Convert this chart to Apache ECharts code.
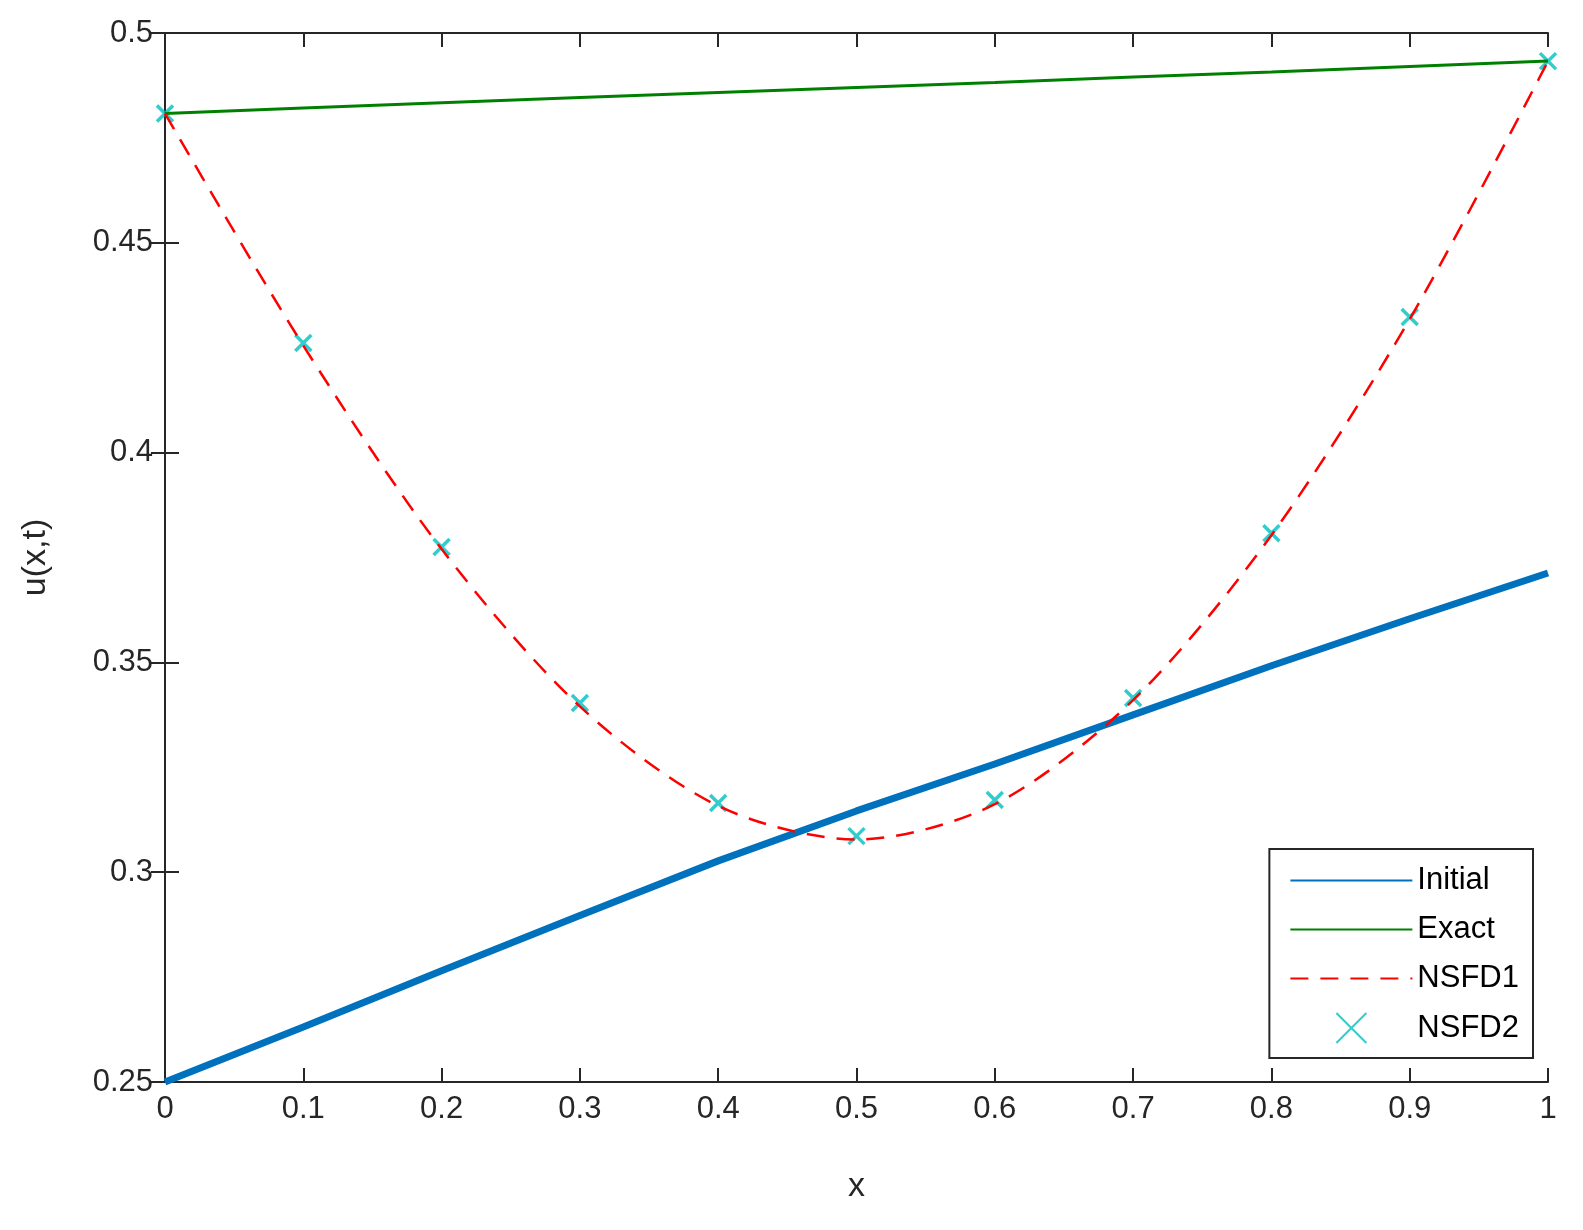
<!DOCTYPE html>
<html><head><meta charset="utf-8">
<script src="https://cdn.jsdelivr.net/npm/echarts@6/dist/echarts.min.js"></script>
<style>html,body{margin:0;padding:0;background:#fff}#c{width:1583px;height:1230px}</style>
</head><body><div id="c"></div>
<script>
const xs = [0,0.1,0.2,0.3,0.4,0.5,0.6,0.7,0.8,0.9,1];
const initial = [0.25,0.2631,0.2765,0.2897,0.3027,0.3146,0.3258,0.3375,0.3492,0.3604,0.3713];
const exact = [0.4808,0.4821,0.4834,0.4846,0.4858,0.4870,0.4882,0.4895,0.4907,0.4920,0.4933];
const nsfd1 = [0.4808,0.4255,0.3770,0.3395,0.3158,0.3078,0.3162,0.3410,0.3803,0.4318,0.4933];
const nsfd2 = [0.4808,0.4261,0.3775,0.3403,0.3165,0.3086,0.3172,0.3415,0.3808,0.4323,0.4933];
const pair = a => xs.map((x,i)=>[x,a[i]]);
const font = 'Liberation Sans';
const lab = {color:'#262626',fontSize:31,fontFamily:font,margin:12};
const axLine = {show:true,lineStyle:{color:'#262626',width:2}};
const tick = {show:true,inside:true,length:14,lineStyle:{color:'#262626',width:2}};
const chart = echarts.init(document.getElementById('c'));
chart.setOption({
  animation:false,
  grid:{left:165,right:35,top:33,bottom:148,outerBoundsMode:'none',containLabel:false},
  xAxis:[
    {type:'value',min:0,max:1,interval:0.1,name:'x',nameLocation:'middle',nameGap:88,
     nameTextStyle:{fontSize:34,fontFamily:font,color:'#262626'},
     axisLine:axLine,axisTick:tick,splitLine:{show:false},
     axisLabel:Object.assign({},lab,{formatter:v=>String(+v.toFixed(1))})},
    {type:'value',min:0,max:1,interval:0.1,position:'top',axisLine:axLine,axisTick:tick,axisLabel:{show:false},splitLine:{show:false}}
  ],
  yAxis:[
    {type:'value',min:0.25,max:0.5,interval:0.05,name:'u(x,t)',nameLocation:'middle',nameGap:112,
     nameTextStyle:{fontSize:34,fontFamily:font,color:'#262626'},
     axisLine:axLine,axisTick:tick,splitLine:{show:false},
     axisLabel:Object.assign({},lab,{formatter:v=>String(+v.toFixed(2))})},
    {type:'value',min:0.25,max:0.5,interval:0.05,position:'right',axisLine:axLine,axisTick:tick,axisLabel:{show:false},splitLine:{show:false}}
  ],
  legend:{orient:'vertical',right:50,bottom:172,padding:[16,14,14,20],itemGap:18,itemWidth:122,itemHeight:30,
    backgroundColor:'#fff',borderColor:'#262626',borderWidth:2,
    textStyle:{fontSize:31,fontFamily:font,color:'#000'},
    data:[{name:'Initial',itemStyle:{opacity:0}},{name:'Exact',itemStyle:{opacity:0}},{name:'NSFD1',itemStyle:{opacity:0}},'NSFD2']},
  series:[
    {name:'Initial',type:'line',data:pair(initial),symbol:'none',lineStyle:{color:'#0072bd',width:7},itemStyle:{color:'#0072bd'}},
    {name:'Exact',type:'line',data:pair(exact),symbol:'none',lineStyle:{color:'#008000',width:3},itemStyle:{color:'#008000'}},
    {name:'NSFD1',type:'line',data:pair(nsfd1),symbol:'none',smooth:0.3,lineStyle:{color:'#ff0000',width:2.5,type:[18,12]},itemStyle:{color:'#ff0000'}},
    {name:'NSFD2',type:'scatter',data:pair(nsfd2),symbol:'path://M0,0L10,10M10,0L0,10',symbolSize:16,
     itemStyle:{color:'rgba(0,0,0,0)',borderColor:'#00bfbf',borderWidth:3.5}}
  ]
});
</script></body></html>
